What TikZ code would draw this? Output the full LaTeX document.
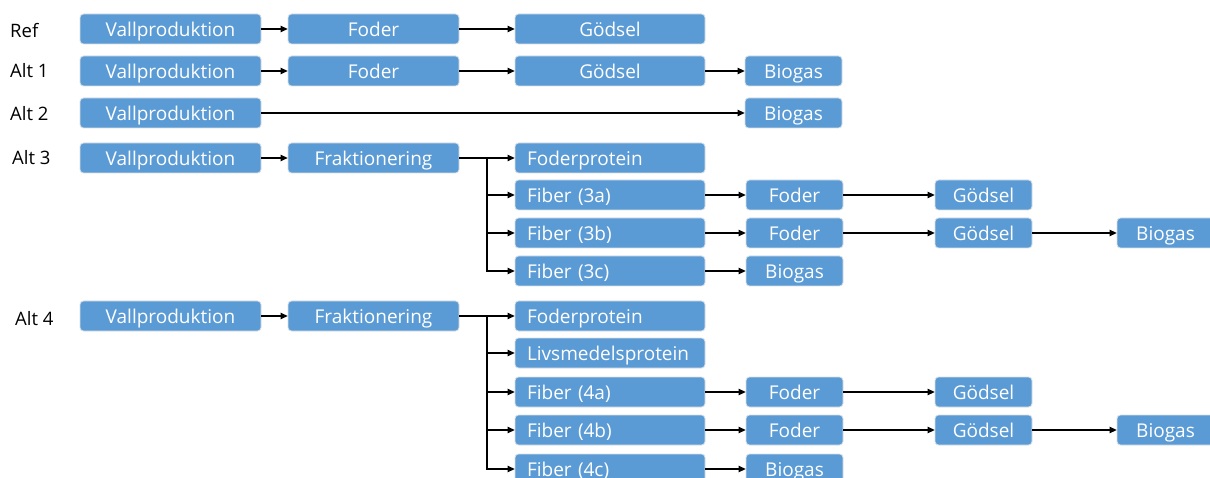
\documentclass[tikz,border=0pt]{standalone}
\usepackage{fontspec}
\setmainfont{Open Sans}
\usepackage{xcolor}
\definecolor{boxblue}{HTML}{5B9BD5}
\definecolor{boxline}{HTML}{D9DEE3}
\usetikzlibrary{arrows.meta}

\tikzset{
  box/.style={draw=boxline, line width=0.8pt, fill=boxblue, rounded corners=3.5pt,
    text=white, minimum height=30, inner sep=0pt, text height=17.5, text depth=2,
    font=\fontsize{19}{22}\selectfont},
  wa/.style={box, minimum width=181},
  wb/.style={box, minimum width=171},
  wc/.style={box, minimum width=190},
  wd/.style={box, minimum width=97},
  lbox/.style={box, inner xsep=12, text width=166, align=left},
  lab/.style={anchor=base west, inner sep=0pt, font=\fontsize{18.5}{22}\selectfont},
  arr/.style={line width=1.2pt, -{Triangle[length=7pt, width=6.5pt]}}
}

\begin{document}
\begin{tikzpicture}[x=1pt, y=-1pt]
  \clip (0,0) rectangle (1210,478);

  % Ref
  \node[lab] (lRef) at (10,38) {Ref};
  \node[wa] (vallRef) at (170.5,29) {Vallproduktion};
  \node[wb] (foderRef) at (373.5,29) {Foder};
  \node[wc] (godRef) at (610,29) {Gödsel};

  % Alt 1
  \node[lab] (lA1) at (10,78) {Alt 1};
  \node[wa] (vallA1) at (170.5,71) {Vallproduktion};
  \node[wb] (foderA1) at (373.5,71) {Foder};
  \node[wc] (godA1) at (610,71) {Gödsel};
  \node[wd] (bioA1) at (793.5,71) {Biogas};

  % Alt 2
  \node[lab] (lA2) at (10,121) {Alt 2};
  \node[wa] (vallA2) at (170.5,113) {Vallproduktion};
  \node[wd] (bioA2) at (793.5,113) {Biogas};

  % Alt 3
  \node[lab] (lA3) at (12,165) {Alt 3};
  \node[wa] (vallA3) at (170.5,158) {Vallproduktion};
  \node[wb] (frakA3) at (373.5,158) {Fraktionering};
  \node[lbox] (fpA3) at (610,158) {Foderprotein};
  \node[lbox] (fibA3a) at (610,195) {Fiber (3a)};
  \node[lbox] (fibA3b) at (610,233) {Fiber (3b)};
  \node[lbox] (fibA3c) at (610,271) {Fiber (3c)};
  \node[wd] (foderA3a) at (794.5,195) {Foder};
  \node[wd] (godA3a) at (983.5,195) {Gödsel};
  \node[wd] (foderA3b) at (794.5,233) {Foder};
  \node[wd] (godA3b) at (983.5,233) {Gödsel};
  \node[wd] (bioA3b) at (1165.5,233) {Biogas};
  \node[wd] (bioA3c) at (794.5,271) {Biogas};

  % Alt 4
  \node[lab] (lA4) at (15,326) {Alt 4};
  \node[wa] (vallA4) at (170.5,316) {Vallproduktion};
  \node[wb] (frakA4) at (373.5,316) {Fraktionering};
  \node[lbox] (fpA4) at (610,316) {Foderprotein};
  \node[lbox] (lmA4) at (610,353) {Livsmedelsprotein};
  \node[lbox] (fibA4a) at (610,392) {Fiber (4a)};
  \node[lbox] (fibA4b) at (610,430) {Fiber (4b)};
  \node[lbox] (fibA4c) at (610,469) {Fiber (4c)};
  \node[wd] (foderA4a) at (794.5,392) {Foder};
  \node[wd] (godA4a) at (983.5,392) {Gödsel};
  \node[wd] (foderA4b) at (794.5,430) {Foder};
  \node[wd] (godA4b) at (983.5,430) {Gödsel};
  \node[wd] (bioA4b) at (1165.5,430) {Biogas};
  \node[wd] (bioA4c) at (794.5,469) {Biogas};

  % Pilar
  \draw[arr] (vallRef) -- (foderRef);
  \draw[arr] (foderRef) -- (godRef);
  \draw[arr] (vallA1) -- (foderA1);
  \draw[arr] (foderA1) -- (godA1);
  \draw[arr] (godA1) -- (bioA1);
  \draw[arr] (vallA2) -- (bioA2);
  \draw[arr] (vallA3) -- (frakA3);
  \draw[arr] (vallA4) -- (frakA4);

  % Förgreningar
  \coordinate (brA3) at (487,158);
  \coordinate (brA4) at (487,316);
  \draw[line width=1.2pt] (frakA3) -- (brA3);
  \draw[line width=1.2pt] (frakA4) -- (brA4);
  \foreach \t in {fpA3, fibA3a, fibA3b, fibA3c}
    \draw[arr] (brA3) |- (\t);
  \foreach \t in {fpA4, lmA4, fibA4a, fibA4b, fibA4c}
    \draw[arr] (brA4) |- (\t);

  \foreach \n in {3,4} {
    \draw[arr] (fibA\n a) -- (foderA\n a);
    \draw[arr] (foderA\n a) -- (godA\n a);
    \draw[arr] (fibA\n b) -- (foderA\n b);
    \draw[arr] (foderA\n b) -- (godA\n b);
    \draw[arr] (godA\n b) -- (bioA\n b);
    \draw[arr] (fibA\n c) -- (bioA\n c);
  }
\end{tikzpicture}
\end{document}
